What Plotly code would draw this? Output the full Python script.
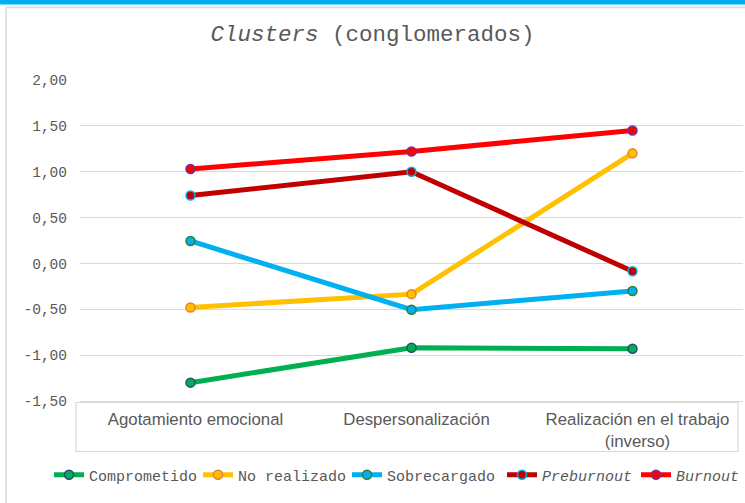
import plotly.graph_objects as go

# Category axis labels (third one carries a second line)
categories = [
    "Agotamiento emocional",
    "Despersonalización",
    "Realización en el trabajo<br>(inverso)",
]

# Mean scores per cluster on each dimension
comprometido = [-1.30, -0.92, -0.93]
no_realizado = [-0.48, -0.335, 1.20]
sobrecargado = [0.245, -0.505, -0.30]
preburnout = [0.74, 1.00, -0.085]
burnout = [1.03, 1.22, 1.45]

series_names = ["Comprometido", "No realizado", "Sobrecargado",
                "<i>Preburnout</i>", "<i>Burnout</i>"]
series_values = [comprometido, no_realizado, sobrecargado, preburnout, burnout]
line_colors = ["#00B050", "#FFC000", "#00B0F0", "#C00000", "#FF0000"]
marker_edges = ["#1F4E79", "#ED7D31", "#2E7D32", "#00B0F0", "#7030A0"]

# Y-axis ticks with comma as decimal separator
y_ticks = [-1.5, -1.0, -0.5, 0.0, 0.5, 1.0, 1.5, 2.0]
y_tick_labels = ["-1,50", "-1,00", "-0,50", "0,00", "0,50", "1,00", "1,50", "2,00"]

MONO = "Liberation Mono, Courier New, monospace"
SANS = "Liberation Sans, Arial, sans-serif"
TEXT = "#595959"
GRID = "#D9D9D9"

W, H = 745, 503
L, R, T, B = 80, 2, 80, 102
plot_w = W - L - R
plot_h = H - T - B

# one legend box per series so the row is laid out like a single strip
legend_ids = ["legend", "legend2", "legend3", "legend4", "legend5"]
legend_left_px = [49, 198, 347, 502, 636]

fig = go.Figure()
for name, vals, lc, mc, lid in zip(series_names, series_values, line_colors,
                                   marker_edges, legend_ids):
    fig.add_trace(go.Scatter(
        x=categories, y=vals, name=name, mode="lines+markers",
        line=dict(color=lc, width=5),
        marker=dict(size=9, color=lc, line=dict(color=mc, width=1.5)),
        legend=lid,
    ))


def px_x(x):
    return (x - L) / plot_w


def px_y(y):
    return (H - B - y) / plot_h


shapes = [
    # top accent bar
    dict(type="rect", xref="paper", yref="paper",
         x0=px_x(-5), x1=px_x(W + 5), y0=px_y(4.5), y1=px_y(-5),
         fillcolor="#00B0F0", line=dict(width=0), layer="below"),
    # chart area frame
    dict(type="line", xref="paper", yref="paper",
         x0=px_x(6), x1=px_x(W + 5), y0=px_y(7.5), y1=px_y(7.5),
         line=dict(color=GRID, width=1.5)),
    dict(type="line", xref="paper", yref="paper",
         x0=px_x(6), x1=px_x(6), y0=px_y(7.5), y1=px_y(H + 5),
         line=dict(color=GRID, width=1.5)),
    # category label box
    dict(type="rect", xref="paper", yref="paper",
         x0=px_x(76), x1=px_x(738), y0=px_y(451.5), y1=px_y(402.5),
         line=dict(color=GRID, width=1.2), fillcolor="rgba(0,0,0,0)"),
]

layout = dict(
    width=W, height=H,
    margin=dict(l=L, r=R, t=T, b=B, autoexpand=False),
    paper_bgcolor="white", plot_bgcolor="white",
    title=dict(text="<i>Clusters</i> (conglomerados)",
               font=dict(family=MONO, size=22.5, color=TEXT),
               x=0.5, xref="container", xanchor="center",
               y=1 - 33 / H, yref="container", yanchor="middle"),
    xaxis=dict(type="category", showgrid=False, zeroline=False,
               showline=True, linecolor=GRID, linewidth=1,
               ticks="", tickfont=dict(family=SANS, size=16.8, color=TEXT),
               ticklabelstandoff=3, ticklabelshift=5,
               range=[-0.5, 2.5], automargin=False),
    yaxis=dict(range=[-1.5, 2.0], tickvals=y_ticks, ticktext=y_tick_labels,
               showgrid=True, gridcolor=GRID, gridwidth=1, zeroline=False,
               showline=False, ticks="", automargin=False,
               tickfont=dict(family=MONO, size=14.5, color=TEXT),
               ticklabelstandoff=12),
    shapes=shapes,
    showlegend=True,
)

for lid, left in zip(legend_ids, legend_left_px):
    layout[lid] = dict(orientation="h", xref="container", yref="container",
                       x=left / W, xanchor="left", y=1 - 475 / H,
                       yanchor="middle",
                       font=dict(family=MONO, size=15, color=TEXT),
                       itemwidth=30, bgcolor="rgba(0,0,0,0)")

fig.update_layout(**layout)
fig.write_html("out.html")
